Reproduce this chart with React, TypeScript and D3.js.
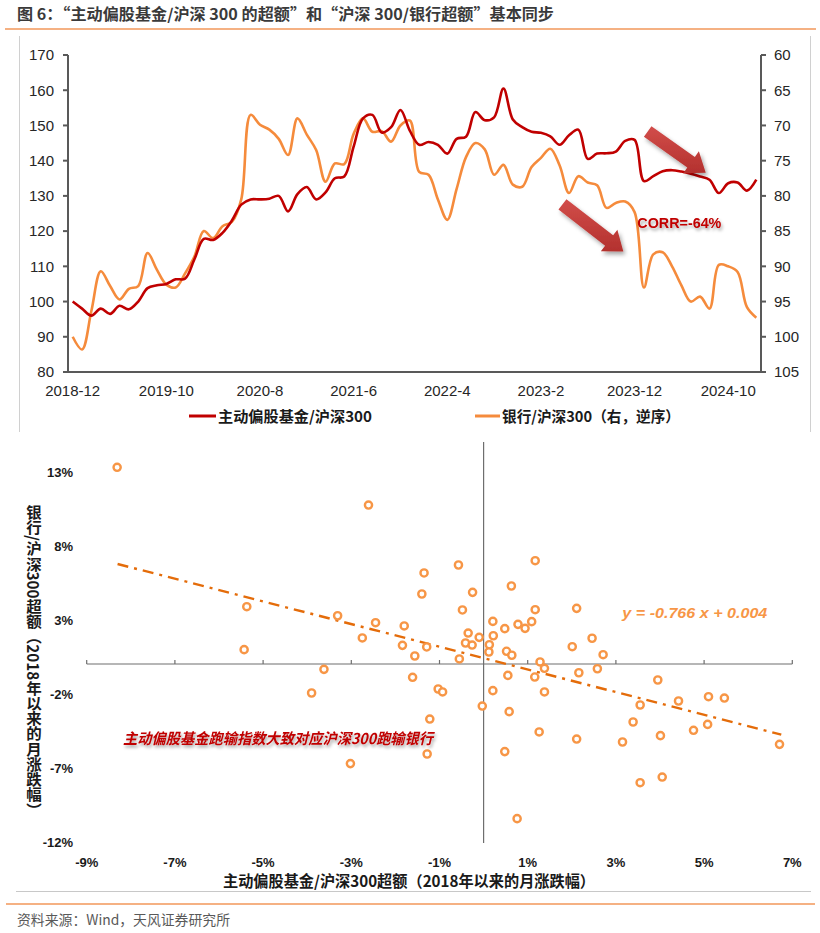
import React from "react";
import * as d3 from "d3";

// ---------- Top chart data (monthly, 2018-12 .. 2025-01) ----------
const xTickLabels = ["2018-12", "2019-10", "2020-8", "2021-6", "2022-4", "2023-2", "2023-12", "2024-10"];
const xTickStep = 10;

const fundVsCsi300 = [
  100, 98, 96, 98, 96.5, 98.8, 97.8, 100, 103.8, 104.6,
  105, 106.3, 106.5, 112, 117.8, 117.5, 119.5, 123, 127.5, 129,
  129, 129.2, 130, 125.6, 130.5, 132.5, 129, 131, 135, 135.5,
  144, 152, 153, 148, 149.5, 154.4, 148.5, 144.5, 145.3, 144.5,
  142, 146.2, 146.8, 153.8, 151.5, 152.3, 160.5, 151.7, 149.5, 148.2,
  147.9, 146.9, 144.5, 147.2, 148.8, 140.5, 142, 142.1, 142.6, 145.6,
  145.9, 134.2, 135.6, 137, 137.3, 136.9, 136.3, 135.5, 134.6, 130.8,
  133.6, 133.8, 131.5, 134.6,
];

const bankVsCsi300 = [
  100, 101.8, 96.3, 90.7, 92.8, 94.7, 93.2, 92.8, 88.1, 90.5,
  92.6, 93, 91, 88.6, 85, 86, 84.3, 83.7, 80.5, 68.5,
  69.9, 70.6, 71.9, 74.2, 69, 71.3, 73.5, 78, 75.4, 75.5,
  71.2, 69, 70.9, 70.8, 72.3, 70, 69.3, 76.6, 77, 80.5,
  83.4, 79, 74.5, 72.5, 73.4, 77, 75.6, 78.4, 78.7, 75.9,
  74.6, 73.3, 75.7, 79.6, 77.2, 78.1, 78.5, 81.7, 81, 80.8,
  82.3, 93, 88.3, 88, 90, 92.7, 95, 94.3, 96, 89.8,
  90, 90.8, 95.8, 97.3,
];

const leftTicks = [80, 90, 100, 110, 120, 130, 140, 150, 160, 170];
const rightTicks = [60, 65, 70, 75, 80, 85, 90, 95, 100, 105];

// ---------- Scatter data (% monthly excess since 2018) ----------
const scatterX = [
  -8.31, -2.61, -5.37, -5.43, -3.31, -2.45, -2.75, -1.8, -1.84, -1.56,
  -3.62, -1.61, -3.9, -1.35, -1.4, -1.29, -1.03, -0.93, -1.22, -0.57,
  -0.25, -0.48, -0.35, -0.41, -0.26, -0.1, -0.55, -0.03, 0.13, 0.12,
  0.21, 0.22, 0.21, 0.48, 0.52, 0.64, 0.63, 0.55, 0.58, 0.78,
  0.94, 1.09, 1.17, 1.17, 1.28, 1.38, 1.16, 1.38, 2.11, 2.01,
  2.46, 2.71, 2.16, 2.58, -1.28, -3.02, 0.48, 0.76, 1.26, 2.11,
  3.95, 3.39, 3.15, 3.55, 4.01, 4.42, 5.1, 5.46, 4.76, 5.08,
  3.55, 4.05, 6.71,
];
const scatterY = [
  13.29, 10.74, 3.87, 0.97, 3.26, 2.79, 1.76, 2.57, 1.26, 0.54,
  -0.36, -0.9, -1.96, 6.15, 4.73, 1.15, -1.69, -1.89, -3.72, 6.69,
  4.84, 3.65, 2.09, 1.42, 1.28, 1.8, 0.34, -2.84, 1.3, 0.81,
  2.88, 1.91, -1.8, 2.39, 0.86, 0.59, 5.27, -0.77, -3.22, 2.68,
  2.41, 2.86, 6.98, 3.67, 0.14, -0.29, -0.88, -1.89, 3.76, 1.17,
  1.74, 0.63, -0.59, -0.32, -6.08, -6.73, -5.92, -10.45, -4.59, -5.07,
  -1.08, -3.92, -5.27, -2.77, -4.84, -2.5, -2.21, -2.3, -4.48, -4.08,
  -8.02, -7.64, -5.43,
];
const scatterXTicks = [-9, -7, -5, -3, -1, 1, 3, 5, 7];
const scatterYTicks = [13, 8, 3, -2, -7, -12];
const trendSlope = -0.766;
const trendIntercept = 0.004;
const trendXRange = [-8.3, 6.75];

const CJK = '"Noto Sans CJK SC", "Noto Sans", sans-serif';
const LAT = '"Liberation Sans", Arial, sans-serif';
const RED = "#c00000";
const ORANGE = "#f58b3c";
const MARK = "#f79646";

function arrowPoints(x1: number, y1: number, x2: number, y2: number, sw: number, hw: number, hl: number) {
  const dx = x2 - x1, dy = y2 - y1;
  const L = Math.hypot(dx, dy);
  const ux = dx / L, uy = dy / L;
  const nx = -uy, ny = ux;
  const bx = x2 - ux * hl, by = y2 - uy * hl;
  const p = [
    [x1 + nx * sw / 2, y1 + ny * sw / 2],
    [bx + nx * sw / 2, by + ny * sw / 2],
    [bx + nx * hw / 2, by + ny * hw / 2],
    [x2, y2],
    [bx - nx * hw / 2, by - ny * hw / 2],
    [bx - nx * sw / 2, by - ny * sw / 2],
    [x1 - nx * sw / 2, y1 - ny * sw / 2],
  ];
  return p.map((q) => q.join(",")).join(" ");
}

export default function App() {
  // top chart scales
  const idx = d3.range(fundVsCsi300.length);
  const xb = d3.scaleBand<number>().domain(idx).range([68, 761]).padding(0);
  const cx = (i: number) => (xb(Math.floor(i)) ?? 0) + xb.bandwidth() / 2 + (i % 1) * xb.bandwidth();
  const yL = d3.scaleLinear().domain([80, 170]).range([372, 55]);
  const yR = d3.scaleLinear().domain([60, 105]).range([55, 372]);
  const curve = d3.curveCatmullRom.alpha(0.5);
  const lineL = d3.line<number>().x((_, i) => cx(i)).y((d) => yL(d)).curve(curve);
  const lineR = d3.line<number>().x((_, i) => cx(i)).y((d) => yR(d)).curve(curve);

  // annotation anchors in data space (index, left-axis value)
  const arrow1 = arrowPoints(cx(61.4), yL(148.3), cx(67.6), yL(136.6), 13, 27, 18);
  const arrow2 = arrowPoints(cx(52.3), yL(127.6), cx(58.8), yL(114.2), 13, 27, 18);

  // scatter scales
  const sx = d3.scaleLinear().domain([-9, 7]).range([86.7, 792.3]);
  const sy = d3.scaleLinear().domain([-12, 15]).range([841.6, 442]);
  const trend = trendXRange.map((v) => [sx(v), sy(trendSlope * v + trendIntercept * 100)]);

  return (
    <svg width={820} height={933} viewBox="0 0 820 933"
      style={{ position: "absolute", left: 0, top: 0, background: "#fff" }}>
      <defs>
        <filter id="shadow" x="-30%" y="-30%" width="160%" height="180%">
          <feDropShadow dx="2" dy="3" stdDeviation="2" floodColor="#000" floodOpacity="0.35" />
        </filter>
        <filter id="tshadow" x="-10%" y="-50%" width="120%" height="200%">
          <feDropShadow dx="1.5" dy="2.5" stdDeviation="1.6" floodColor="#000" floodOpacity="0.35" />
        </filter>
        <linearGradient id="arrowGrad" x1="0" y1="0" x2="0" y2="1">
          <stop offset="0" stopColor="#d24d4a" />
          <stop offset="1" stopColor="#b3312e" />
        </linearGradient>
      </defs>
      <rect x={0} y={0} width={820} height={933} fill="#fff" />

      {/* Title */}
      <text x={17} y={20} fontFamily={CJK} fontWeight={700} fontSize={15.5} fill="#3a3a3a"
        textLength={537} lengthAdjust="spacingAndGlyphs">
        图 6：“主动偏股基金/沪深 300 的超额”和“沪深 300/银行超额”基本同步
      </text>
      <line x1={5} x2={816} y1={29} y2={29} stroke="#f5b183" strokeWidth={2} />

      {/* top chart frame */}
      <line x1={19.5} x2={19.5} y1={36} y2={432} stroke="#d0d0d0" strokeWidth={1} />
      <line x1={810.5} x2={810.5} y1={36} y2={432} stroke="#d0d0d0" strokeWidth={1} />

      {/* top chart axes */}
      <g stroke="#595959" strokeWidth={2}>
        <line x1={68} x2={68} y1={55} y2={372} />
        <line x1={761} x2={761} y1={55} y2={372} />
        <line x1={67} x2={762} y1={372} y2={372} />
        {leftTicks.map((t) => (
          <line key={"lt" + t} x1={63} x2={68} y1={yL(t)} y2={yL(t)} />
        ))}
        {rightTicks.map((t) => (
          <line key={"rt" + t} x1={761} x2={766} y1={yR(t)} y2={yR(t)} />
        ))}
      </g>
      <g fontFamily={LAT} fontSize={15} fill="#262626">
        {leftTicks.map((t) => (
          <text key={"ll" + t} x={54} y={yL(t) + 5.3} textAnchor="end">{t}</text>
        ))}
        {rightTicks.map((t) => (
          <text key={"rl" + t} x={774} y={yR(t) + 5.3} textAnchor="start">{t}</text>
        ))}
        {xTickLabels.map((lab, k) => (
          <text key={lab} x={cx(k * xTickStep)} y={396} textAnchor="middle">{lab}</text>
        ))}
      </g>

      {/* series */}
      <path d={lineR(bankVsCsi300) ?? ""} fill="none" stroke={ORANGE} strokeWidth={2.6} strokeLinejoin="round" />
      <path d={lineL(fundVsCsi300) ?? ""} fill="none" stroke={RED} strokeWidth={2.6} strokeLinejoin="round" />

      {/* arrows + corr */}
      <polygon points={arrow1} fill="url(#arrowGrad)" filter="url(#shadow)" />
      <polygon points={arrow2} fill="url(#arrowGrad)" filter="url(#shadow)" />
      <text x={cx(60.3)} y={yL(122.3) + 5} fontFamily={LAT} fontWeight={700} fontSize={14} fill={RED}
        filter="url(#tshadow)" textLength={84} lengthAdjust="spacingAndGlyphs">CORR=-64%</text>

      {/* legend */}
      <line x1={189} x2={216} y1={416} y2={416} stroke={RED} strokeWidth={3} />
      <text x={218} y={421.5} fontFamily={CJK} fontWeight={700} fontSize={15} fill="#1a1a1a"
        textLength={154} lengthAdjust="spacingAndGlyphs">主动偏股基金/沪深300</text>
      <line x1={475} x2={500} y1={416} y2={416} stroke={ORANGE} strokeWidth={3} />
      <text x={502} y={421.5} fontFamily={CJK} fontWeight={700} fontSize={15} fill="#1a1a1a"
        textLength={178} lengthAdjust="spacingAndGlyphs">银行/沪深300（右，逆序）</text>

      {/* ---------- scatter ---------- */}
      <line x1={sx(0)} x2={sx(0)} y1={sy(15)} y2={sy(-12) + 1.5} stroke="#6e6e6e" strokeWidth={1.2} />
      <line x1={sx(-9)} x2={sx(7)} y1={sy(0)} y2={sy(0)} stroke="#6e6e6e" strokeWidth={1.2} />
      {scatterXTicks.map((t) => (
        <line key={"sxt" + t} x1={sx(t)} x2={sx(t)} y1={sy(0) - 4} y2={sy(0)} stroke="#6e6e6e" strokeWidth={1.2} />
      ))}
      <g fontFamily={LAT} fontWeight={700} fontSize={13} fill="#1a1a1a">
        {scatterYTicks.map((t) => (
          <text key={"syl" + t} x={73} y={sy(t) + 5.5} textAnchor="end">{t + "%"}</text>
        ))}
        {scatterXTicks.map((t) => (
          <text key={"sxl" + t} x={sx(t)} y={866.5} textAnchor="middle">{t + "%"}</text>
        ))}
      </g>

      {/* trendline */}
      <line x1={trend[0][0]} y1={trend[0][1]} x2={trend[1][0]} y2={trend[1][1]}
        stroke="#e46c0a" strokeWidth={2.4} strokeDasharray="11,6,3,6" />

      {/* points */}
      <g fill="#fff" stroke={MARK} strokeWidth={2.4}>
        {scatterX.map((v, i) => (
          <circle key={"p" + i} cx={sx(v)} cy={sy(scatterY[i])} r={3.6} />
        ))}
      </g>

      {/* equation */}
      <text x={sx(4.79)} y={sy(3.45) + 5} textAnchor="middle" fontFamily={LAT} fontStyle="italic"
        fontWeight={700} fontSize={14.5} fill={MARK} textLength={145} lengthAdjust="spacingAndGlyphs">
        y = -0.766 x + 0.004
      </text>

      {/* red annotation */}
      <text x={sx(-4.66)} y={sy(-5.0) + 5.5} textAnchor="middle" fontFamily={CJK} fontStyle="italic"
        fontWeight={700} fontSize={15} fill={RED} filter="url(#tshadow)"
        textLength={310} lengthAdjust="spacingAndGlyphs">
        主动偏股基金跑输指数大致对应沪深300跑输银行
      </text>

      {/* axis titles */}
      <text x={409} y={887} textAnchor="middle" fontFamily={CJK} fontWeight={700} fontSize={15.5} fill="#1a1a1a"
        textLength={372} lengthAdjust="spacingAndGlyphs">
        主动偏股基金/沪深300超额（2018年以来的月涨跌幅）
      </text>
      <text x={34} y={661} textAnchor="middle" fontFamily={CJK} fontWeight={700} fontSize={15.5} fill="#1a1a1a"
        style={{ writingMode: "vertical-rl" as any }} textLength={313} lengthAdjust="spacingAndGlyphs">
        银行/沪深300超额（2018年以来的月涨跌幅）
      </text>

      {/* footer */}
      <line x1={16} x2={811} y1={891.5} y2={891.5} stroke="#c8c8c8" strokeWidth={1} />
      <line x1={6} x2={815} y1={904} y2={904} stroke="#f5b183" strokeWidth={2} />
      <text x={17} y={925} fontFamily={CJK} fontSize={14} fill="#595959"
        textLength={213} lengthAdjust="spacingAndGlyphs">资料来源：Wind，天风证券研究所</text>
    </svg>
  );
}
